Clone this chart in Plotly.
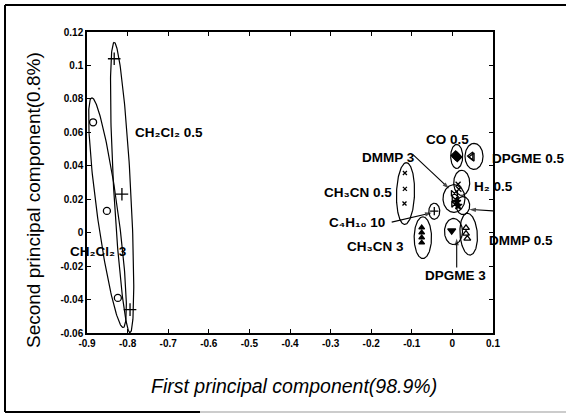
import numpy as np
import plotly.graph_objects as go

# ---------------- data ----------------
ch2cl2_05_pc1 = [-0.833, -0.814, -0.794]
ch2cl2_05_pc2 = [0.104, 0.023, -0.046]
ch2cl2_3_pc1 = [-0.885, -0.851, -0.824]
ch2cl2_3_pc2 = [0.066, 0.013, -0.039]
co_05_pc1 = [0.008, 0.012]
co_05_pc2 = [0.0462, 0.0452]
dpgme_05_pc1 = [0.046, 0.049]
dpgme_05_pc2 = [0.0458, 0.0452]
h2_05_pc1 = [0.014, 0.016]
h2_05_pc2 = [0.029, 0.026]
dmmp_3_pc1 = [0.005, 0.007, 0.006]
dmmp_3_pc2 = [0.0235, 0.020, 0.017]
ch4_50_pc1 = [0.011, 0.014]
ch4_50_pc2 = [0.0185, 0.0162]
c4h10_10_pc1 = [-0.0446]
c4h10_10_pc2 = [0.0129]
ch3cn_05_pc1 = [-0.117, -0.117, -0.118]
ch3cn_05_pc2 = [0.0357, 0.0262, 0.0174]
ch3cn_3_pc1 = [-0.0756, -0.0756, -0.0756, -0.0756]
ch3cn_3_pc2 = [0.003, 0.000, -0.003, -0.006]
dpgme_3_pc1 = [-0.0017]
dpgme_3_pc2 = [0.0012]
dmmp_05_pc1 = [0.0335, 0.0335, 0.0367]
dmmp_05_pc2 = [0.0029, -0.0006, -0.0036]

x_ticks = [-0.9, -0.8, -0.7, -0.6, -0.5, -0.4, -0.3, -0.2, -0.1, 0, 0.1]
x_tick_labels = ["-0.9", "-0.8", "-0.7", "-0.6", "-0.5", "-0.4", "-0.3", "-0.2", "-0.1", "0", "0.1"]
y_ticks = [-0.06, -0.04, -0.02, 0, 0.02, 0.04, 0.06, 0.08, 0.1, 0.12]
y_tick_labels = ["-0.06", "-0.04", "-0.02", "0", "0.02", "0.04", "0.06", "0.08", "0.1", "0.12"]

# group outlines: centre x, centre y, top-offset dx, top-offset dy, half width
ellipses = [
    (-0.8135, 0.027, -0.0195, 0.0868, 0.021),
    (-0.8495, 0.012, -0.0385, 0.0687, 0.026),
    (0.0106, 0.0456, 0, 0.0072, 0.0148),
    (0.0532, 0.0456, 0, 0.0078, 0.0222),
    (0.0229, 0.0298, 0, 0.0075, 0.0197),
    (-0.1155, 0.0234, 0.002, 0.0185, 0.0222),
    (-0.0446, 0.0128, 0, 0.0048, 0.0135),
    (-0.0728, -0.003, 0, 0.0125, 0.0214),
    (0.0039, 0.0204, 0, 0.0083, 0.0271),
    (0.0261, 0.0162, 0, 0.0054, 0.0165),
    (0.0027, 0.0007, 0, 0.0078, 0.0222),
    (0.0401, -0.0009, -0.003, 0.0125, 0.0214),
]

FONT = "Liberation Sans, Arial, DejaVu Sans, sans-serif"

fig = go.Figure()

series = [
    (ch2cl2_05_pc1, ch2cl2_05_pc2, "cross-thin-open", 9),
    (ch2cl2_3_pc1, ch2cl2_3_pc2, "circle-open", 7),
    (co_05_pc1, co_05_pc2, "diamond", 7),
    (dpgme_05_pc1, dpgme_05_pc2, "triangle-left-open", 7),
    (h2_05_pc1, h2_05_pc2, "x-thin-open", 5),
    (dmmp_3_pc1, dmmp_3_pc2, "bowtie-open", 6),
    (ch4_50_pc1, ch4_50_pc2, "star", 6),
    (c4h10_10_pc1, c4h10_10_pc2, "cross-thin-open", 6),
    (ch3cn_05_pc1, ch3cn_05_pc2, "x-thin-open", 4),
    (ch3cn_3_pc1, ch3cn_3_pc2, "triangle-up", 5),
    (dpgme_3_pc1, dpgme_3_pc2, "triangle-down", 7),
    (dmmp_05_pc1, dmmp_05_pc2, "triangle-up-open", 6),
]

t = np.linspace(0, 2 * np.pi, 200)
for cx, cy, dx, dy, m in ellipses:
    fig.add_trace(go.Scatter(
        x=cx + dx * np.cos(t) + m * np.sin(t), y=cy + dy * np.cos(t),
        mode="lines", line=dict(color="black", width=1.2),
        showlegend=False, hoverinfo="skip"))

for xs, ys, sym, sz in series:
    fig.add_trace(go.Scatter(
        x=xs, y=ys, mode="markers",
        marker=dict(symbol=sym, size=sz, color="black",
                    line=dict(color="black", width=1.3)),
        showlegend=False, cliponaxis=False))

# arrows (tail -> head)
arrows = [
    (-0.097, 0.0467, -0.0084, 0.0264),
    (-0.1495, 0.0063, -0.051, 0.0119),
    (0.1172, 0.0128, 0.0416, 0.0139),
    (0.0106, -0.0209, 0.0106, -0.0035),
]
for tx, ty, hx, hy in arrows:
    fig.add_trace(go.Scatter(
        x=[tx, hx], y=[ty, hy], mode="lines+markers",
        line=dict(color="black", width=1.1),
        marker=dict(symbol="arrow", size=[0, 7], angleref="previous",
                    color="black", line=dict(width=0)),
        showlegend=False, hoverinfo="skip", cliponaxis=False))

labels = [
    ("CH₂Cl₂ 0.5", -0.787, 0.0598),
    ("CO 0.5", -0.070, 0.0556),
    ("DMMP 3", -0.2276, 0.0447),
    ("DPGME 0.5", 0.0926, 0.0443),
    ("CH₃CN 0.5", -0.3219, 0.0238),
    ("H₂ 0.5", 0.0483, 0.0278),
    ("CH₄ 50", 0.132, 0.0128),
    ("C₄H₁₀ 10", -0.3096, 0.0063),
    ("CH₃CN 3", -0.2645, -0.008),
    ("DMMP 0.5", 0.0845, -0.0046),
    ("DPGME 3", -0.0724, -0.0259),
]
for txt, lx, ly in labels:
    fig.add_annotation(x=lx, y=ly, text=txt, showarrow=False,
                       xanchor="left", yanchor="middle",
                       font=dict(family=FONT, size=13.5, color="black", weight="bold"))
# label sitting partly outside the plotting area
fig.add_annotation(x=(68 - 87) / 406, y=(333 - 251) / 301, xref="paper", yref="paper",
                   text="CH₂Cl₂ 3", showarrow=False, xanchor="left", yanchor="middle",
                   font=dict(family=FONT, size=13.5, color="black", weight="bold"))

# axis titles
fig.add_annotation(x=(294 - 87) / 406, y=(333 - 386) / 301, xref="paper", yref="paper",
                   text="<i>First principal component(98.9%)</i>", showarrow=False,
                   xanchor="center", yanchor="middle",
                   font=dict(family=FONT, size=19.5, color="black"))
fig.add_annotation(x=(33 - 87) / 406, y=(333 - 200) / 301, xref="paper", yref="paper",
                   text="Second principal component(0.8%)", showarrow=False, textangle=-90,
                   xanchor="center", yanchor="middle",
                   font=dict(family=FONT, size=19, color="black"))

# outer frame of the figure
frame = [(-82 / 406, (333 - 5) / 301, 479 / 406, (333 - 5) / 301),
         (-82 / 406, (333 - 5) / 301, -82 / 406, (333 - 412) / 301),
         (-82 / 406, (333 - 412) / 301, 113 / 406, (333 - 412) / 301)]
for x0, y0, x1, y1 in frame:
    fig.add_shape(type="line", xref="paper", yref="paper", x0=x0, y0=y0, x1=x1, y1=y1,
                  line=dict(color="black", width=2))
fig.add_shape(type="line", xref="paper", yref="paper", x0=113 / 406, y0=(333 - 412) / 301,
              x1=479 / 406, y1=(333 - 412) / 301, line=dict(color="#bbbbbb", width=1.5))

axis_common = dict(showgrid=False, zeroline=False, showline=True, mirror="ticks",
                   linecolor="black", linewidth=1.5, ticks="inside", ticklen=4,
                   tickcolor="black", tickwidth=1.2,
                   tickfont=dict(family=FONT, size=10, color="black", weight="bold"))
fig.update_xaxes(range=[-0.9, 0.1], tickvals=x_ticks, ticktext=x_tick_labels, **axis_common)
fig.update_yaxes(range=[-0.06, 0.12], tickvals=y_ticks, ticktext=y_tick_labels, **axis_common)

fig.update_layout(width=572, height=414, margin=dict(l=87, r=79, t=32, b=81),
                  plot_bgcolor="white", paper_bgcolor="white", showlegend=False)

fig.write_html("out.html")
